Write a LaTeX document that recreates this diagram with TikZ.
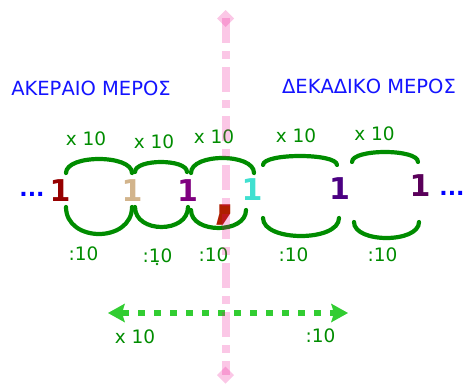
\documentclass[tikz,border=0pt]{standalone}
\usepackage{fontspec}
\setmainfont{DejaVu Sans}
\usetikzlibrary{arrows.meta}
\definecolor{arcgreen}{RGB}{0,140,0}
\definecolor{lime}{RGB}{50,205,50}
\definecolor{headblue}{RGB}{20,20,255}
\definecolor{dred}{RGB}{150,0,0}
\definecolor{dtan}{RGB}{210,180,140}
\definecolor{dpurple}{RGB}{128,0,128}
\definecolor{dturq}{RGB}{64,224,208}
\definecolor{dindigo}{RGB}{75,0,130}
\definecolor{dplum}{RGB}{90,0,90}
\definecolor{commared}{RGB}{175,30,0}
\newcommand\uparcx[4]{\draw[arcline] (#1,#3) .. controls (#1,{#3-#4*4/3}) and (#2,{#3-#4*4/3}) .. (#2,#3);}
\newcommand\downarcx[4]{\draw[arcline] (#1,#3) .. controls (#1,{#3+#4*4/3}) and (#2,{#3+#4*4/3}) .. (#2,#3);}
\begin{document}
\begin{tikzpicture}[x=1pt,y=-1pt,
  arcline/.style={arcgreen, line width=4.2pt, line cap=round},
  lbl/.style={text=arcgreen, font=\fontsize{18.5}{19}\selectfont, inner sep=0pt},
  digit/.style={font=\fontsize{30}{30}\selectfont\bfseries, inner sep=0pt},
  heading/.style={text=headblue, font=\fontsize{19.5}{20}\selectfont, inner sep=0pt},
  dots/.style={text=blue, font=\fontsize{22}{22}\selectfont\bfseries, inner sep=0pt},
  pinkline/.style={magenta, opacity=0.22, line width=8pt, dash pattern=on 25pt off 8pt on 8pt off 8pt},
  dotarrow/.style={lime, line width=6pt, dash pattern=on 6.5pt off 9.5pt,
    {Stealth[length=17pt,width=19pt,inset=3pt,line width=0pt]}-{Stealth[length=17pt,width=19pt,inset=3pt,line width=0pt]}}
]
\useasboundingbox (0,0) rectangle (466,383);
% headings
\node[heading] (hint) at (91,88) {ΑΚΕΡΑΙΟ ΜΕΡΟΣ};
\node[heading] (hdec) at (369,86) {ΔΕΚΑΔΙΚΟ ΜΕΡΟΣ};
% digits
\node[dots] (ldots) at (32,194) {...};
\node[digit, text=dred] (d1) at (60,191) {1};
\node[digit, text=dtan] (d2) at (132,191) {1};
\node[digit, text=dpurple] (d3) at (187.5,191) {1};
\node[font=\fontsize{62}{62}\selectfont\bfseries, text=commared, inner sep=0pt] (comma) at (225,215) {,};
\node[digit, text=dturq] (d4) at (252,190) {1};
\node[digit, text=dindigo] (d5) at (339.5,189) {1};
\node[digit, text=dplum] (d6) at (420,186) {1};
\node[dots] (rdots) at (452,193) {...};
% top arcs
\uparcx{66}{132}{173}{14}
\uparcx{135}{187}{172}{10}
\uparcx{191}{254}{173}{15}
\uparcx{263}{337}{165}{9}
\uparcx{352}{418}{162}{10}
% bottom arcs
\downarcx{66}{132}{207}{27}
\downarcx{135}{188}{207}{20}
\downarcx{191}{246}{210}{18}
\downarcx{263}{339}{218}{18}
\downarcx{354}{419}{222}{16}
% labels
\node[lbl] (m1) at (86,139) {x 10};
\node[lbl] (m2) at (154,142) {x 10};
\node[lbl] (m3) at (214,137) {x 10};
\node[lbl] (m4) at (296,135.5) {x 10};
\node[lbl] (m5) at (374.5,133.5) {x 10};
\node[lbl] (q1) at (83.5,253.5) {:10};
\node[lbl] (q2) at (157.5,256) {:10};
\node[lbl] (q3) at (213.5,255) {:10};
\node[lbl] (q4) at (293.5,254.5) {:10};
\node[lbl] (q5) at (382.5,254.5) {:10};
\fill[arcgreen] (157,264) circle (1.4pt);
% bottom arrow
\coordinate (al) at (108,313);
\coordinate (ar) at (348,313);
\draw[dotarrow] (al) -- (ar);
\node[lbl] (bm) at (135,337) {x 10};
\node[lbl] (bq) at (320.5,336) {:10};
% pink axis
\coordinate (pt) at (225.5,18);
\coordinate (pb) at (225.5,375);
\draw[pinkline] (pt) -- (pb);
\fill[magenta, opacity=0.22] (225.5,10) -- (234,18.5) -- (225.5,27) -- (217,18.5) -- cycle;
\fill[magenta, opacity=0.22] (225.5,366.5) -- (234,375) -- (225.5,383.5) -- (217,375) -- cycle;
\end{tikzpicture}
\end{document}
